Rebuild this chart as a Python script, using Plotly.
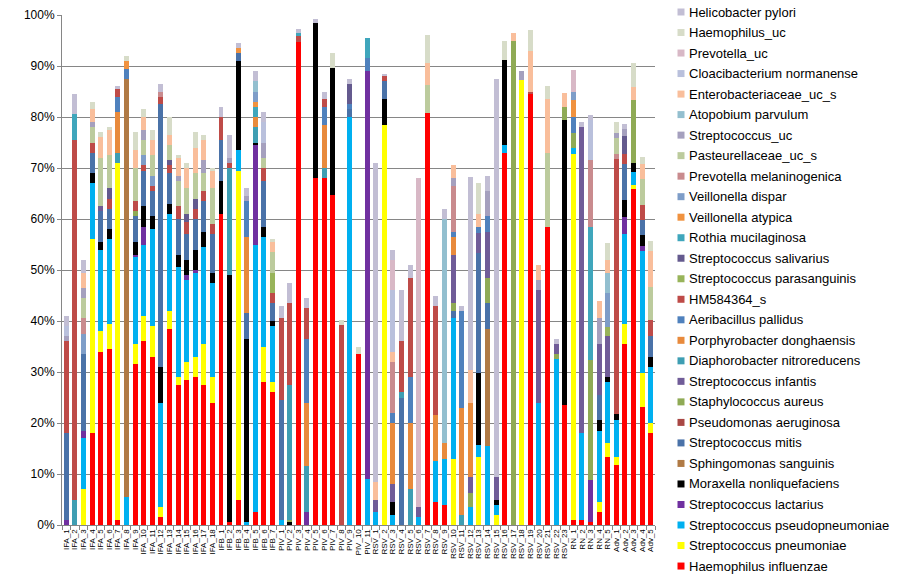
import plotly.graph_objects as go

samples = [
    "IFA_1", "IFA_2", "IFA_3", "IFA_4", "IFA_5", "IFA_6", "IFA_7", "IFA_8", "IFA_9", "IFA_10",
    "IFA_11", "IFA_12", "IFA_13", "IFA_14", "IFA_15", "IFA_16", "IFA_17", "IFA_18",
    "IFB_1", "IFB_2", "IFB_3", "IFB_4", "IFB_5", "IFB_6", "IFB_7",
    "PIV_1", "PIV_2", "PIV_3", "PIV_4", "PIV_5", "PIV_6", "PIV_7", "PIV_8", "PIV_9", "PIV_10", "PIV_11",
    "RSV_1", "RSV_2", "RSV_3", "RSV_4", "RSV_5", "RSV_6", "RSV_7", "RSV_8", "RSV_9", "RSV_10",
    "RSV_11", "RSV_12", "RSV_13", "RSV_14", "RSV_15", "RSV_16", "RSV_17", "RSV_18", "RSV_19", "RSV_20",
    "RSV_21", "RSV_22", "RSV_23",
    "RN_1", "RN_2", "RN_3", "RN_4", "RN_5",
    "Adv_1", "Adv_2", "Adv_3", "Adv_4", "Adv_5",
]

# values per species, in the sample order above (IFA | IFB | PIV | RSV | RN | Adv)
haemophilus_influenzae = ([0, 0, 0, 18, 34, 34.5, 1, 0, 31.5, 36, 33, 1.5, 38.5, 27.5, 28.5, 29, 27.5, 24]
    + [61, 0.5, 5, 0, 2.5, 28, 26]
    + [0, 0, 94.8, 0, 68, 68, 64.7, 0, 0, 33.5, 0]
    + [0, 0, 0, 0, 0, 0, 80.7, 4.5, 4, 0, 0, 0, 0, 0, 0, 73, 0, 0, 84.5, 0, 58.5, 0, 23.5]
    + [1, 1, 0.5, 2.5, 13.3]
    + [11.7, 35.5, 65.8, 23.2, 18])
streptococcus_pneumoniae = ([0, 0, 7, 38, 4, 5, 70, 0, 4, 5, 6, 2, 3.5, 1.5, 3.5, 4, 8, 5]
    + [0, 0, 64.5, 0, 0, 7, 2]
    + [0, 0, 0, 0, 0, 0, 0, 0, 0, 0, 0]
    + [0, 78.5, 0, 0, 0, 0, 0, 0, 0, 13, 0, 0, 13.3, 0, 2, 0, 0, 87.3, 0, 0, 0, 0, 0]
    + [71.7, 0, 0, 2, 2.7]
    + [1.6, 4, 0.8, 6.6, 2])
streptococcus_pseudopneumoniae = ([0, 0, 10, 11, 16, 16.5, 0, 5.5, 17, 14, 19, 20.5, 19, 21.5, 16, 16.5, 19, 18.5]
    + [0, 0, 4, 0.5, 52.5, 21.5, 11]
    + [1, 0, 0, 0, 0, 0, 0, 0, 80, 0, 9]
    + [2.5, 0, 2, 0, 0, 1.5, 0, 8, 9, 27.5, 0, 3.5, 2.4, 15.5, 2, 1.5, 0, 0, 0, 24, 0, 32.5, 0]
    + [1.3, 17, 0, 14, 12]
    + [7.3, 17.5, 2.6, 24, 11])
streptococcus_lactarius = ([1, 0, 1.5, 0, 0, 0, 0, 0, 0.5, 3.5, 0, 0, 0, 0, 1, 0.5, 0, 0]
    + [0, 0, 0, 0, 19.5, 0, 0]
    + [0, 0, 0, 2.5, 0, 0, 0, 0, 0, 0, 80]
    + [0] * 23
    + [0, 0, 8.3, 0, 0]
    + [0, 3.3, 0, 1, 0])
moraxella_nonliquefaciens = ([0, 0, 0, 2, 1.5, 2, 0, 0, 2.5, 4, 2.5, 7, 2, 2.5, 3, 4, 3, 2]
    + [6.5, 48.5, 17.5, 36, 0.5, 2, 1]
    + [0, 0.5, 0, 0, 30.5, 0, 25, 0, 0, 0, 0]
    + [0, 5, 2.5, 0, 0, 0, 0, 0, 0, 0, 0, 0, 14.1, 0, 1, 16.7, 0, 0, 0, 0, 0, 0, 56]
    + [0, 0, 0, 2, 1]
    + [1.2, 3.4, 1.8, 2, 2])
sphingomonas_sanguinis = ([0, 0, 0, 0, 0, 0, 0, 82, 0, 0, 0, 0, 0, 0, 0, 0, 0, 0]
    + [0] * 7
    + [0] * 11
    + [0, 0, 0, 0, 0, 0, 0, 0, 0, 0, 0, 0, 0, 23, 0, 0, 0, 0, 0, 0, 0, 0, 0]
    + [0] * 5
    + [0] * 5)
streptococcus_mitis = ([17, 0, 15, 4, 6, 4, 0, 0, 5, 7, 5, 51.5, 6, 7, 5, 6, 6, 7.5]
    + [8, 0, 1.5, 5, 0, 9, 3.5]
    + [23.5, 0, 0, 0, 0, 0, 0, 0, 1.5, 0, 0]
    + [0, 3.5, 0, 25, 0, 0, 0, 0, 0, 1.5, 0, 0, 23.5, 5, 0, 0, 0, 0, 0, 0, 0, 0, 0]
    + [0, 0, 0, 5, 0]
    + [0, 7, 0, 3, 4])
pseudomonas_aeruginosa = [0] * 18 + [0] * 7 + [0] * 11 + [0] * 23 + [0] * 5 + [0] * 5
staphylococcus_aureus = ([0, 0, 0, 0, 0, 0, 0, 0, 1, 0, 0, 0, 0, 0, 0, 0, 0, 0]
    + [0] * 7
    + [0, 0.5, 0, 0, 0, 0, 0, 0, 0, 0, 0]
    + [0, 0, 0, 0, 0, 0, 0, 0, 0, 1.5, 0, 2.7, 0, 5, 0, 0, 95, 0, 0, 0, 0, 1, 2.5]
    + [2.8, 0, 23.6, 0, 0]
    + [0, 0, 12.3, 0, 0])
streptococcus_infantis = ([0, 0, 0, 0, 1, 0, 0, 0, 0, 0, 0, 0, 0, 0, 0, 0, 0, 0]
    + [0] * 7
    + [0] * 11
    + [2.5, 0, 3.5, 0, 0, 2, 0, 0, 0, 9.5, 0, 3.2, 4, 9, 4.5, 0, 0, 0, 0, 22, 0, 2, 0]
    + [0, 60, 0, 10, 8]
    + [0] * 5)
diaphorobacter_nitroreducens = ([0, 5, 0, 0, 0, 0, 2, 0, 0, 0, 0, 0, 0, 0, 0, 0, 0, 0]
    + [0, 21, 0, 0, 3, 0, 0]
    + [0, 26.5, 0, 9, 0, 2, 0, 0, 0, 0, 0]
    + [0, 0, 0, 1, 7, 0, 0, 0, 0, 0, 2, 0, 0, 0, 0, 0, 0, 0, 0, 0, 0, 0, 0]
    + [0] * 5
    + [0] * 5)
porphyrobacter_donghaensis = ([0, 0, 0, 0, 0, 0, 8, 0, 0, 0, 0, 0, 0, 0, 0, 0, 0, 0]
    + [0, 0, 0, 15, 2, 0, 0]
    + [0, 0, 0, 12.5, 0, 8.5, 0, 0, 0, 0, 0]
    + [0, 0, 12, 0, 13, 0, 0, 9, 3, 3.5, 21, 14.6, 0, 0, 0, 0, 0, 0, 0, 0, 0, 0, 0]
    + [0] * 5
    + [0] * 5)
aeribacillus_pallidus = ([0, 0, 0, 0, 0, 0, 3, 2, 0, 0, 0, 0, 0, 0, 0, 0, 0, 0]
    + [0, 0, 0, 7, 0, 0, 0]
    + [0, 0, 0, 12.5, 0, 3.5, 0, 0, 1, 0, 2.5]
    + [0, 0, 2, 0, 9, 0, 0, 0, 0, 1, 19, 0, 1.2, 3, 0, 0, 0, 0, 0, 0, 0, 0, 0]
    + [3.2, 0, 0, 0, 0]
    + [0] * 5)
hm584364_s = ([18, 70.5, 0, 2, 0, 2, 1.5, 0, 2, 1, 1, 1.5, 1.5, 2.5, 2.5, 2, 2, 2]
    + [4.5, 1, 0, 0, 0, 2.5, 2]
    + [16, 16, 1, 6, 0, 1.5, 0, 39.3, 0, 0, 0]
    + [0, 1, 0, 10, 19.5, 0, 0, 21.5, 0, 0, 0, 0, 0, 0, 0, 0, 0, 0, 0.5, 0, 0, 0, 0]
    + [0] * 5
    + [50, 2, 0, 3, 3.2])
streptococcus_parasanguinis = ([0] * 18
    + [0, 0, 0, 0, 0, 0, 4]
    + [0] * 11
    + [0] * 23
    + [0, 0, 0, 0, 1.8]
    + [0] * 5)
streptococcus_salivarius = ([0, 0, 0, 0, 0, 2, 0, 0, 0, 0, 0, 0, 1, 0, 1.5, 2, 0, 0]
    + [0] * 7
    + [0, 0, 0, 0, 0, 0, 0, 0, 4, 0, 0]
    + [0] * 23
    + [0] * 5
    + [0, 3.5, 0, 0, 0])
rothia_mucilaginosa = ([0, 5, 0, 0, 0, 0, 0, 0, 0, 0, 0, 0, 0, 0, 0, 0, 0, 0]
    + [0, 0, 0, 0, 2, 0, 0]
    + [0, 0, 0.7, 0, 0, 0, 0, 0, 0, 0, 4]
    + [0] * 23
    + [0, 0, 26, 0, 0]
    + [0] * 5)
veillonella_atypica = ([0, 0, 0, 0, 0, 0, 0, 1.5, 0, 0, 0, 0, 0, 0, 0, 0, 0, 0]
    + [0, 0, 1, 0, 1, 0, 0]
    + [0] * 11
    + [0] * 23
    + [3.3, 0, 0, 0, 0]
    + [0] * 5)
veillonella_dispar = ([0, 0, 4, 0, 0, 0, 0, 0, 0, 2, 2, 0, 0, 0, 0, 0, 0, 0]
    + [0, 0, 0, 0, 2, 0, 0]
    + [0] * 11
    + [0] * 23
    + [1.7, 0, 0, 0, 6.7]
    + [0] * 5)
prevotella_melaninogenica = ([0, 0, 3, 0, 0, 0, 0, 0, 0, 0, 0, 1, 0, 0, 0, 0, 0, 0]
    + [0] * 7
    + [0] * 11
    + [0, 0, 10, 0, 0, 0, 0, 0, 0, 9, 0, 0, 0, 0, 0, 0, 0, 0, 0, 0, 0, 0, 0]
    + [0, 0, 13.2, 0, 0]
    + [1, 0, 0, 0, 0])
pasteurellaceae_uc_s = ([0, 0, 4, 3, 9.5, 6.5, 0, 0, 6.5, 3, 4, 0, 3, 5, 5, 5, 3.5, 7]
    + [0, 0, 0, 0, 0, 2, 4]
    + [0] * 11
    + [0, 0, 0, 0, 0, 0, 5.6, 0, 0, 0, 0, 0, 0, 0, 0, 0, 0, 0, 0, 0, 14.5, 0, 0]
    + [0] * 5
    + [3, 0, 0, 5, 6.5])
streptococcus_uc = ([1, 0, 2, 1, 0, 0, 0, 0, 0, 2, 0, 0, 0, 1, 0, 0, 2.5, 0]
    + [0, 1, 0, 1, 0, 3, 0]
    + [0] * 11
    + [0, 0, 0, 0, 0, 0, 0, 0, 0, 1.5, 0, 0, 0, 5, 0, 0, 0, 1.7, 0, 2, 0, 0, 0]
    + [0, 0, 0, 5, 0]
    + [1, 1.5, 0, 0, 0])
atopobium_parvulum = ([0] * 18
    + [0, 0, 0, 0, 2, 0, 0]
    + [0] * 11
    + [0, 0, 0, 0, 0, 0, 0, 0, 44, 0, 0, 0, 0, 0, 0, 0, 0, 0, 0, 0, 0, 0, 0]
    + [0, 0, 0, 0, 3.9]
    + [0] * 5)
enterobacteriaceae_uc_s = ([0, 0, 3, 2.5, 4, 5, 0, 0, 3.5, 2.5, 3, 0, 2, 3.5, 4, 5, 4, 3.5]
    + [0, 0, 0, 0, 0, 0, 2]
    + [0] * 11
    + [3.5, 0, 2, 0, 0, 0, 4.2, 0, 0, 2.5, 0, 6.4, 2.5, 0, 0, 0, 1.5, 0, 8, 3, 10.5, 0, 2.7]
    + [0, 0, 0, 3.5, 2.6]
    + [0, 0, 2.5, 3, 7])
cloacibacterium_normanense = ([2, 0, 0, 0, 0, 0, 0, 0, 0, 0, 0, 0, 0, 0, 0, 0, 0, 0]
    + [0, 0, 0, 0, 0, 4, 0]
    + [0] * 11
    + [0, 0, 12, 0, 0, 0, 0, 0, 0, 0, 0, 0, 0, 0, 0, 0, 0, 0, 0, 0, 0, 0, 0]
    + [0, 0, 7.8, 0, 0]
    + [0] * 5)
prevotella_uc = ([0] * 18
    + [0] * 7
    + [0] * 11
    + [0, 0, 6, 0, 0, 64.5, 0, 0, 0, 0, 0, 0, 0, 0, 0, 0, 0, 0, 0, 0, 0, 0, 0]
    + [4.2, 0, 0, 0, 0]
    + [0] * 5)
haemophilus_uc = ([0, 0, 0, 1.5, 1, 0.5, 0, 1, 3.5, 1.5, 2, 0, 3.5, 0.5, 1, 3, 1, 0.5]
    + [0, 0, 0, 0, 0, 0, 0.5]
    + [0, 0, 0, 0, 0, 0, 2.8, 0.8, 0, 1.5, 0]
    + [0, 0, 0, 0, 0, 0, 5.5, 0, 0, 0, 0, 0, 6, 0, 0, 3.8, 0, 0, 4, 0, 2.5, 0, 0]
    + [0, 0, 0, 0, 3.3]
    + [2.2, 0, 4.8, 1.4, 2])
helicobacter_pylori = ([2, 4, 2.5, 0, 0, 0, 0.5, 0, 0, 0, 0, 1.5, 0, 0, 0, 0, 0, 0]
    + [2, 4.5, 1, 1.5, 2, 2, 0]
    + [2.5, 4, 0.7, 2, 0.7, 1.5, 0, 0, 1, 0, 0]
    + [62.5, 0.5, 2, 10, 2.5, 0, 0, 2, 2, 0, 1, 37.9, 0, 3, 78, 0, 0, 0, 0, 0, 0, 1, 0]
    + [0, 1, 1, 0, 0]
    + [0, 1, 0, 0, 0])

# stacking order, bottom first
series = [
    ("Haemophilus influenzae", haemophilus_influenzae, "#FF0000"),
    ("Streptococcus pneumoniae", streptococcus_pneumoniae, "#FFFF00"),
    ("Streptococcus pseudopneumoniae", streptococcus_pseudopneumoniae, "#00B0F0"),
    ("Streptococcus lactarius", streptococcus_lactarius, "#7030A0"),
    ("Moraxella nonliquefaciens", moraxella_nonliquefaciens, "#000000"),
    ("Sphingomonas sanguinis", sphingomonas_sanguinis, "#B07A45"),
    ("Streptococcus mitis", streptococcus_mitis, "#4A72A8"),
    ("Pseudomonas aeruginosa", pseudomonas_aeruginosa, "#A94744"),
    ("Staphylococcus aureus", staphylococcus_aureus, "#8FAA55"),
    ("Streptococcus infantis", streptococcus_infantis, "#705C98"),
    ("Diaphorobacter nitroreducens", diaphorobacter_nitroreducens, "#3E9EB3"),
    ("Porphyrobacter donghaensis", porphyrobacter_donghaensis, "#E88A3C"),
    ("Aeribacillus pallidus", aeribacillus_pallidus, "#4F81BD"),
    ("HM584364_s", hm584364_s, "#BE4B48"),
    ("Streptococcus parasanguinis", streptococcus_parasanguinis, "#98B45A"),
    ("Streptococcus salivarius", streptococcus_salivarius, "#645A8E"),
    ("Rothia mucilaginosa", rothia_mucilaginosa, "#3FA6BC"),
    ("Veillonella atypica", veillonella_atypica, "#F0923F"),
    ("Veillonella dispar", veillonella_dispar, "#7E9DC8"),
    ("Prevotella melaninogenica", prevotella_melaninogenica, "#C98B8E"),
    ("Pasteurellaceae_uc_s", pasteurellaceae_uc_s, "#BCCB9D"),
    ("Streptococcus_uc", streptococcus_uc, "#A5A0BE"),
    ("Atopobium parvulum", atopobium_parvulum, "#93BFCF"),
    ("Enterobacteriaceae_uc_s", enterobacteriaceae_uc_s, "#F9BE9B"),
    ("Cloacibacterium normanense", cloacibacterium_normanense, "#B9C0DC"),
    ("Prevotella_uc", prevotella_uc, "#D8B8C6"),
    ("Haemophilus_uc", haemophilus_uc, "#D7DCC8"),
    ("Helicobacter pylori", helicobacter_pylori, "#C2BED4"),
]

W, H = 907, 576
ML, MR, MT, MB = 62, 252, 15, 51
PW, PH = W - ML - MR, H - MT - MB


def px_x(px):
    return (px - ML) / PW


def px_y(py):
    return (H - MB - py) / PH


fig = go.Figure()
for name, vals, col in series:
    fig.add_trace(go.Bar(
        x=samples, y=vals, name=name,
        marker=dict(color=col, line=dict(width=0)),
    ))

# legend drawn at the right, top entry = top of the stack
annotations = []
shapes = []
LEG_TOP, LEG_STEP = 12, 20.52
for i, (name, vals, col) in enumerate(reversed(series)):
    cy = LEG_TOP + i * LEG_STEP
    shapes.append(dict(
        type="rect", xref="paper", yref="paper",
        x0=px_x(677.5), x1=px_x(684.5), y0=px_y(cy + 3.5), y1=px_y(cy - 3.5),
        fillcolor=col, line=dict(width=0), layer="above",
    ))
    annotations.append(dict(
        xref="paper", yref="paper", x=px_x(687), y=px_y(cy),
        xanchor="left", yanchor="middle", showarrow=False, text=name,
        font=dict(size=13, family="Arial, Liberation Sans, sans-serif", color="#000000"),
    ))

fig.update_layout(
    width=W, height=H,
    margin=dict(l=ML, r=MR, t=MT, b=MB),
    barmode="stack", bargap=0.42,
    paper_bgcolor="white", plot_bgcolor="white",
    font=dict(family="Arial, Liberation Sans, sans-serif", color="#000000"),
    showlegend=False,
    annotations=annotations,
    shapes=shapes,
    xaxis=dict(
        type="category", tickmode="linear", tick0=0, dtick=1,
        tickangle=-90, tickfont=dict(size=8),
        showline=True, linecolor="#868686", linewidth=1,
        ticks="outside", ticklen=4, tickcolor="#868686", tickson="boundaries",
        showgrid=False, automargin=False,
    ),
    yaxis=dict(
        range=[0, 100], dtick=10, ticksuffix="%", tickfont=dict(size=12),
        showline=True, linecolor="#868686", linewidth=1,
        ticks="outside", ticklen=4, tickcolor="#868686",
        showgrid=True, gridcolor="#868686", gridwidth=1, zeroline=False,
        automargin=False,
    ),
)

fig.write_html(
    "out.html",
    config={"displayModeBar": False},
    post_script="document.body.style.margin='0';document.body.style.overflow='hidden';",
)
